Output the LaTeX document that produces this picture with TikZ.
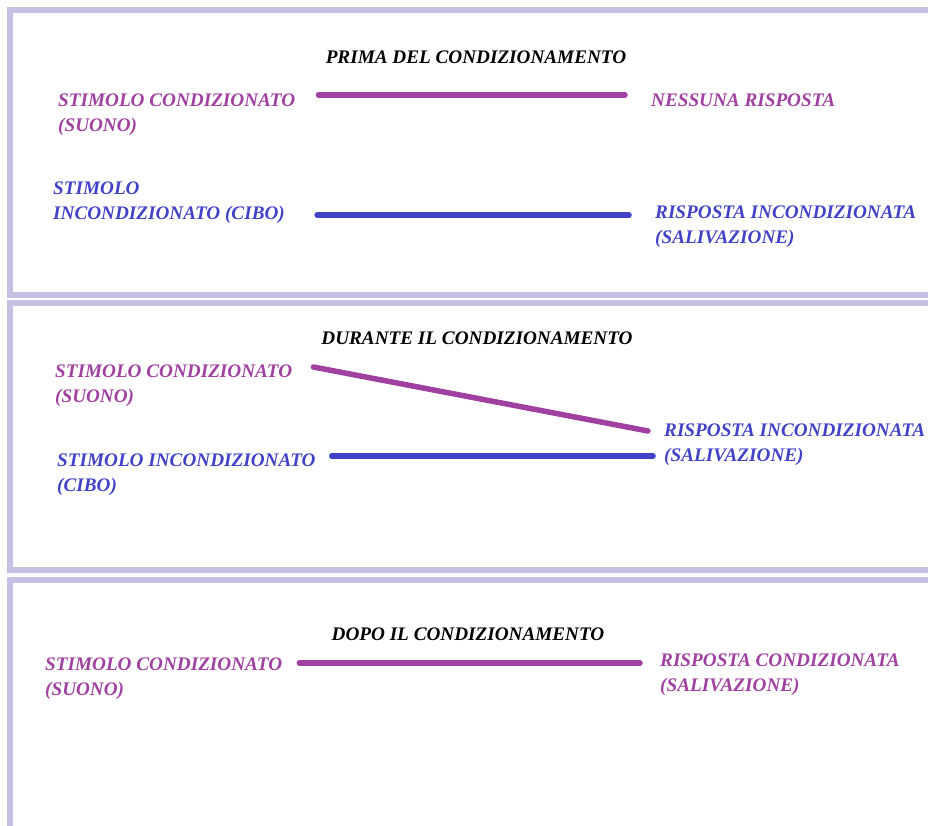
\documentclass[tikz,border=0pt]{standalone}
\usepackage{fontspec}
\setmainfont{Liberation Serif}
\usetikzlibrary{calc}

\definecolor{panelc}{HTML}{C8C0E4}
\definecolor{purp}{HTML}{A040A0}
\definecolor{blu}{HTML}{4242C8}

\begin{document}
\begin{tikzpicture}[
  x=1pt, y=-1pt,
  font=\fontsize{19.2}{25}\selectfont\bfseries\itshape,
  panel/.style  = {draw=panelc, line width=6pt},
  title/.style  = {anchor=center, inner sep=0pt, text=black},
  plabel/.style = {anchor=north west, inner sep=0pt, align=left, text=purp},
  blabel/.style = {anchor=north west, inner sep=0pt, align=left, text=blu},
  pline/.style  = {purp, line width=5.5pt, line cap=round},
  bline/.style  = {blu, line width=5.5pt, line cap=round}
]
\useasboundingbox (0,0) rectangle (928,826);

% panels
\draw[panel] (10,10)  rectangle (945,295);
\draw[panel] (10,303) rectangle (945,570);
\draw[panel] (10,580) rectangle (945,850);

% prima
\node[title]  (t1)  at (476,57)    {PRIMA DEL CONDIZIONAMENTO};
\node[plabel] (cs1) at (58,93.5)   {STIMOLO CONDIZIONATO\\(SUONO)};
\node[plabel] (nr1) at (651,93.5)  {NESSUNA RISPOSTA};
\node[blabel] (us1) at (53,181.5)  {STIMOLO\\INCONDIZIONATO (CIBO)};
\node[blabel] (ur1) at (655,205.5) {RISPOSTA INCONDIZIONATA\\(SALIVAZIONE)};

\draw[pline] ($(cs1.north east)+(23,1.5)$)  -- ($(nr1.north west)+(-26,1.5)$);
\draw[bline] ($(us1.north east)+(32,33.5)$) -- ($(ur1.north west)+(-26,9.5)$);

% durante
\node[title]  (t2)  at (477,338)   {DURANTE IL CONDIZIONAMENTO};
\node[plabel] (cs2) at (55,364.5)  {STIMOLO CONDIZIONATO\\(SUONO)};
\node[blabel] (ur2) at (664,423.5) {RISPOSTA INCONDIZIONATA\\(SALIVAZIONE)};
\node[blabel] (us2) at (57,453.5)  {STIMOLO INCONDIZIONATO\\(CIBO)};

\draw[pline] ($(cs2.north east)+(21,2.5)$) -- ($(ur2.north west)+(-16,7.5)$);
\draw[bline] ($(us2.north east)+(16,2.5)$) -- ($(ur2.north west)+(-11,32.5)$);

% dopo
\node[title]  (t3)  at (468,634)   {DOPO IL CONDIZIONAMENTO};
\node[plabel] (cs3) at (45,657.5)  {STIMOLO CONDIZIONATO\\(SUONO)};
\node[plabel] (cr3) at (660,653.5) {RISPOSTA CONDIZIONATA\\(SALIVAZIONE)};

\draw[pline] ($(cs3.north east)+(17,5.5)$) -- ($(cr3.north west)+(-20,9.5)$);

\end{tikzpicture}
\end{document}
